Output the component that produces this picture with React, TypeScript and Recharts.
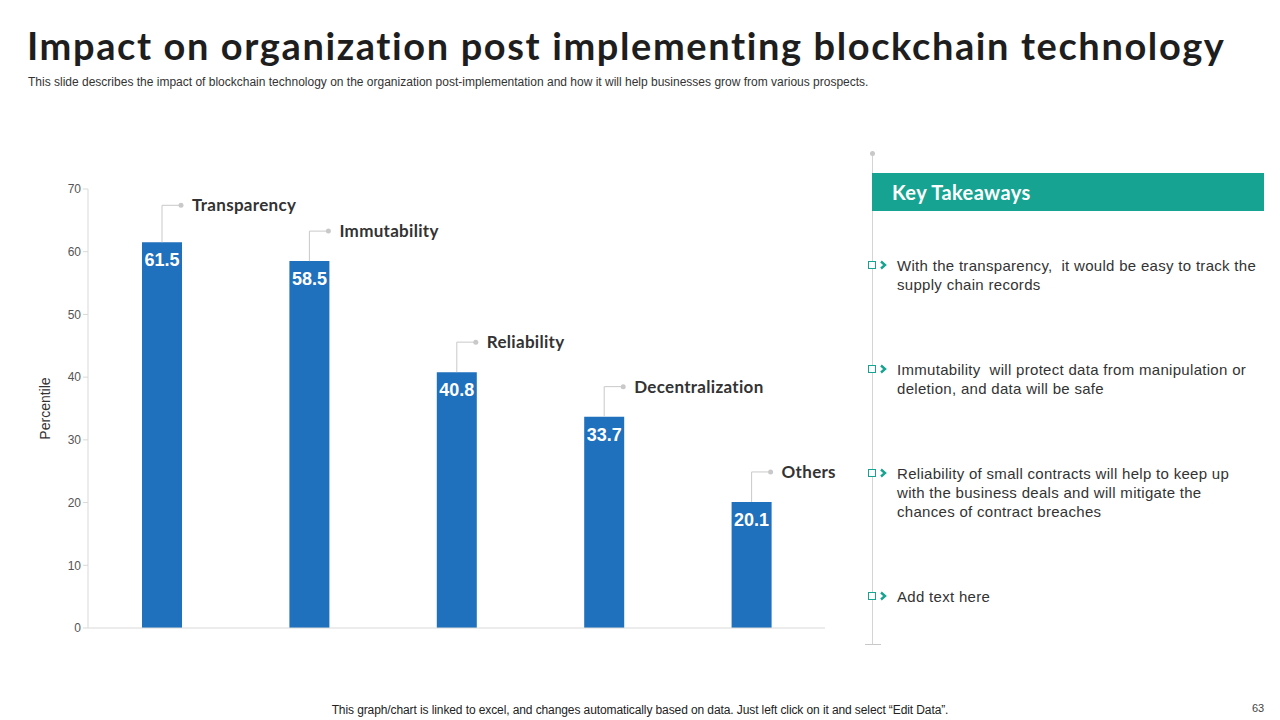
import React from 'react';
import { BarChart, Bar, XAxis, YAxis, LabelList } from 'recharts';

const categories = ['Transparency', 'Immutability', 'Reliability', 'Decentralization', 'Others'];
const percentile = [61.5, 58.5, 40.8, 33.7, 20.1];
const yTicks = [0, 10, 20, 30, 40, 50, 60, 70];

const takeaways = [
  'With the transparency,  it would be easy to track the supply chain records',
  'Immutability  will protect data from manipulation or deletion, and data will be safe',
  'Reliability of small contracts will help to keep up with the business deals and will mitigate the chances of contract breaches',
  'Add text here',
];

const chartData = categories.map((name, i) => ({ name, value: percentile[i] }));

const BLUE = '#1f70bd';
const TEAL = '#16a392';
const GREY = '#c9c9c9';

// value printed inside the top of each bar
const ValueLabel = (props: any) => {
  const { x, y, width, value } = props;
  return (
    <text
      x={x + width / 2}
      y={y + 24}
      textAnchor="middle"
      fill="#ffffff"
      fontFamily="'Liberation Sans', Arial, sans-serif"
      fontWeight={700}
      fontSize={18}
    >
      {value}
    </text>
  );
};

// category name with a small leader line above each bar
const NameLabel = (props: any) => {
  const { x, y, width, index } = props;
  const cx = x + width / 2;
  const ty = y - (index === 0 ? 37 : 30);
  return (
    <g>
      <polyline points={`${cx},${y} ${cx},${ty} ${cx + 19},${ty}`} fill="none" stroke={GREY} strokeWidth={1} />
      <circle cx={cx + 19} cy={ty} r={2.5} fill={GREY} />
      <text
        x={cx + 30}
        y={ty}
        dy={6}
        fill="#333333"
        fontFamily="Lato, 'Open Sans', sans-serif"
        fontWeight={700}
        fontSize={17}
        letterSpacing={0.3}
      >
        {categories[index]}
      </text>
    </g>
  );
};

const Chevron = () => (
  <svg width={10} height={10} style={{ position: 'absolute', left: 13, top: 4 }}>
    <polyline points="2,1.5 6,5 2,8.5" fill="none" stroke={TEAL} strokeWidth={2.4} />
  </svg>
);

export default function App() {
  return (
    <div
      style={{
        position: 'absolute',
        left: 0,
        top: 0,
        width: 1280,
        height: 720,
        background: '#ffffff',
        overflow: 'hidden',
        fontFamily: "'Liberation Sans', Arial, sans-serif",
      }}
    >
      <div
        style={{
          position: 'absolute',
          left: 27,
          top: 22,
          fontFamily: 'Lato, sans-serif',
          fontWeight: 700,
          fontSize: 38,
          letterSpacing: 1.6,
          color: '#1e1e1e',
          whiteSpace: 'nowrap',
        }}
      >
        Impact on organization post implementing blockchain technology
      </div>
      <div
        style={{
          position: 'absolute',
          left: 28,
          top: 75,
          fontSize: 12,
          color: '#333',
          whiteSpace: 'nowrap',
        }}
      >
        This slide describes the impact of blockchain technology on the organization post-implementation and how it will help
        businesses grow from various prospects.
      </div>

      <div style={{ position: 'absolute', left: 0, top: 150 }}>
        <BarChart width={850} height={500} data={chartData} margin={{ top: 39, right: 25, left: 28, bottom: 21 }} barSize={40}>
          <XAxis dataKey="name" tick={false} tickLine={false} height={1} axisLine={{ stroke: '#d9d9d9' }} />
          <YAxis
            width={60}
            domain={[0, 70]}
            ticks={yTicks}
            interval={0}
            axisLine={{ stroke: '#d9d9d9' }}
            tickLine={{ stroke: '#d9d9d9' }}
            tickSize={5}
            tick={{ fill: '#555555', fontSize: 12, fontFamily: "'Liberation Sans', Arial, sans-serif" }}
            label={{
              value: 'Percentile',
              angle: -90,
              position: 'insideLeft',
              offset: 17,
              fill: '#333333',
              fontSize: 14,
              style: { textAnchor: 'middle' },
            }}
          />
          <Bar dataKey="value" fill={BLUE} isAnimationActive={false}>
            <LabelList dataKey="value" content={ValueLabel} />
            <LabelList dataKey="name" content={NameLabel} />
          </Bar>
        </BarChart>
      </div>

      {/* right panel */}
      <div style={{ position: 'absolute', left: 872, top: 153, width: 1, height: 491, background: '#d4d4d4' }} />
      <div style={{ position: 'absolute', left: 870, top: 151, width: 5, height: 5, borderRadius: 3, background: '#c8c8c8' }} />
      <div style={{ position: 'absolute', left: 865, top: 644, width: 16, height: 1, background: '#c8c8c8' }} />
      <div
        style={{
          position: 'absolute',
          left: 872,
          top: 173,
          width: 392,
          height: 38,
          background: TEAL,
          color: '#fff',
          fontFamily: 'Lato, sans-serif',
          fontWeight: 700,
          fontSize: 20,
          letterSpacing: 0.4,
          lineHeight: '38px',
          paddingLeft: 20,
          boxSizing: 'border-box',
        }}
      >
        Key Takeaways
      </div>
      {takeaways.map((t, i) => (
        <div key={i} style={{ position: 'absolute', left: 866, top: [256, 360, 464, 587][i], width: 400 }}>
          <div
            style={{
              position: 'absolute',
              left: 2,
              top: 5,
              width: 6,
              height: 6,
              border: `1px solid ${TEAL}`,
              background: '#fff',
            }}
          />
          <Chevron />
          <div
            style={{
              position: 'absolute',
              left: 31,
              top: 0,
              width: 362,
              fontSize: 15,
              lineHeight: '19px',
              letterSpacing: 0.3,
              whiteSpace: 'pre-wrap',
              color: '#333',
            }}
          >
            {t}
          </div>
        </div>
      ))}

      <div
        style={{
          position: 'absolute',
          left: 0,
          width: 1280,
          top: 703,
          textAlign: 'center',
          fontSize: 12,
          color: '#222',
          letterSpacing: -0.1,
        }}
      >
        This graph/chart is linked to excel,  and changes automatically based on data. Just left click on it and select “Edit Data”.
      </div>
      <div style={{ position: 'absolute', left: 1252, top: 702, fontSize: 11, color: '#444' }}>63</div>
    </div>
  );
}
